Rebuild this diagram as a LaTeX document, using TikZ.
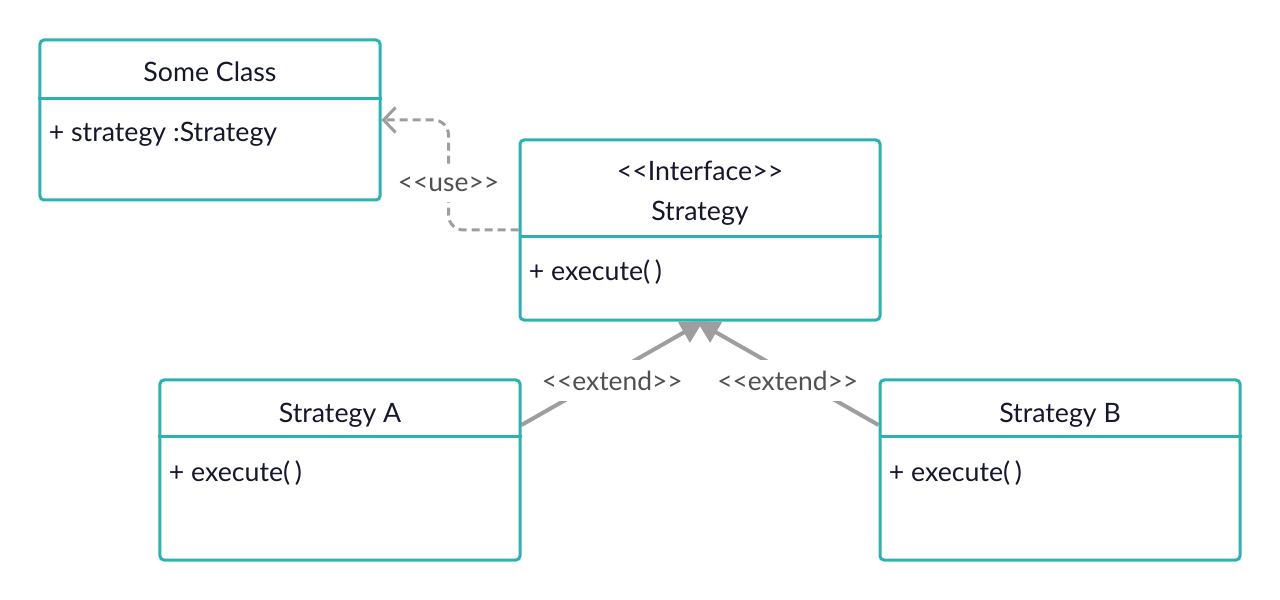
\documentclass[tikz,border=0pt]{standalone}
\usepackage{fontspec}
\setmainfont{Lato}
\usetikzlibrary{arrows.meta, positioning, calc, backgrounds}
\definecolor{ink}{HTML}{16162C}
\definecolor{muted}{HTML}{505050}
\definecolor{edge}{HTML}{9E9E9E}
\definecolor{frame}{HTML}{2BB3AF}
\tikzset{
  font=\fontsize{15.2}{18}\selectfont,
  %
  cls/.style={draw=frame, line width=0.6mm, rounded corners=0.8mm, fill=white,
              inner sep=0pt},
  divider/.style={draw=frame, line width=0.6mm},
  title/.style={text=ink, inner sep=0pt, anchor=base},
  member/.style={text=ink, inner sep=0pt, anchor=base west},
  %
  lbl/.style={font=\fontsize{15}{18}\selectfont, text=muted, fill=white,
              inner xsep=3pt, inner ysep=6pt},
  usedep/.style={draw=edge, line width=0.6mm, dash pattern=on 1.6mm off 1mm,
                 rounded corners=3mm, -{Straight Barb[length=2.4mm, width=5mm]}},
  extends/.style={draw=edge, line width=0.8mm, -{Triangle[length=4.4mm, width=4.6mm]}},
}
\begin{document}
\begin{tikzpicture}[x=0.2mm, y=-0.2mm]
  \useasboundingbox (0,0) rectangle (1280,600);

  % classes
  \node[cls, minimum width=68mm, minimum height=32mm] (sc)  at (210,120)  {};
  \node[cls, minimum width=72mm, minimum height=36mm] (ifc) at (700,230)  {};
  \node[cls, minimum width=72mm, minimum height=36mm] (sa)  at (340,470)  {};
  \node[cls, minimum width=72mm, minimum height=36mm] (sb)  at (1060,470) {};

  \draw[divider] ($(sc.north west)+(0,60)$)  -- ($(sc.north east)+(0,60)$);
  \draw[divider] ($(ifc.north west)+(0,98)$) -- ($(ifc.north east)+(0,98)$);
  \draw[divider] ($(sa.north west)+(0,58)$)  -- ($(sa.north east)+(0,58)$);
  \draw[divider] ($(sb.north west)+(0,58)$)  -- ($(sb.north east)+(0,58)$);

  \node[title]  (sc-t)  at ($(sc.north)+(0,43)$)       {Some Class};
  \node[member] (sc-m)  at ($(sc.north west)+(10,103)$) {+ strategy :Strategy};

  \node[title]  (ifc-s) at ($(ifc.north)+(0,42)$)       {<{}<Interface>{}>};
  \node[title]  (ifc-t) at ($(ifc.north)+(0,82)$)       {Strategy};
  \node[member] (ifc-m) at ($(ifc.north west)+(10,142)$) {+ execute(\,)};

  \node[title]  (sa-t)  at ($(sa.north)+(0,44)$)        {Strategy A};
  \node[member] (sa-m)  at ($(sa.north west)+(10,103)$) {+ execute(\,)};

  \node[title]  (sb-t)  at ($(sb.north)+(0,44)$)        {Strategy B};
  \node[member] (sb-m)  at ($(sb.north west)+(10,103)$) {+ execute(\,)};

  % relations
  \coordinate (sa-out) at ($(sa.east)+(0,-45)$);
  \coordinate (sb-out) at ($(sb.west)+(0,-45)$);
  \coordinate (ifc-ina) at ($(ifc.south)+(3,0)$);
  \coordinate (ifc-inb) at ($(ifc.south)+(-3,0)$);

  \begin{scope}[on background layer]
    \draw[usedep] (ifc.west) -- ++(-70,0)
      |- node[lbl, pos=0.21] {<{}<use>{}>} (sc.east);
    \draw[extends] (sa-out) -- node[lbl, pos=0.5, yshift=-1.5mm] {<{}<extend>{}>} (ifc-ina);
    \draw[extends] (sb-out) -- node[lbl, pos=0.5, yshift=-1.5mm] {<{}<extend>{}>} (ifc-inb);
  \end{scope}

\end{tikzpicture}
\end{document}
